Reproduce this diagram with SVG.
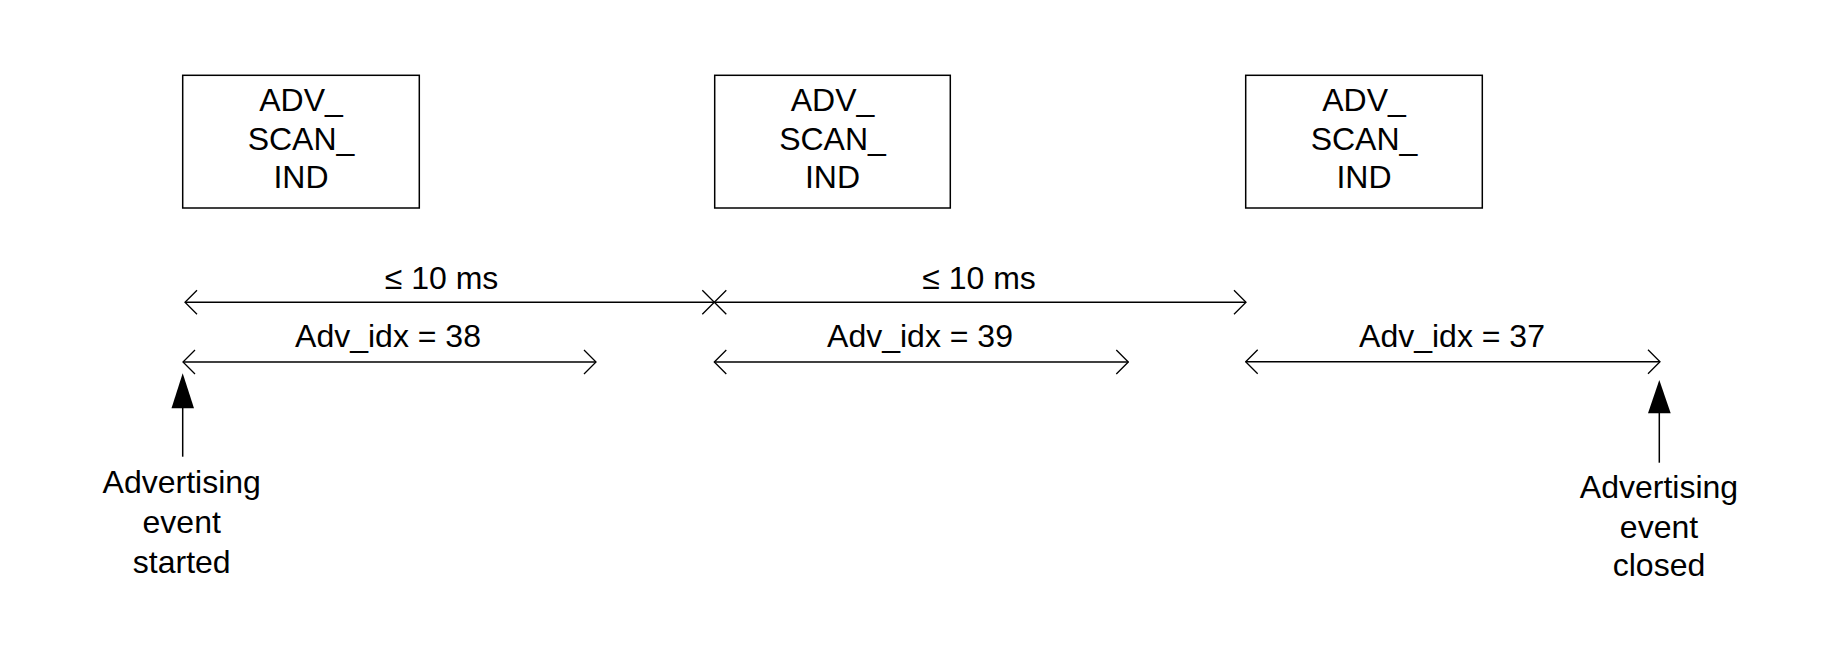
<svg xmlns="http://www.w3.org/2000/svg" width="1842" height="664" viewBox="0 0 1842 664">
<style>
text{font-family:"Liberation Sans",Arial,sans-serif;font-size:32px;fill:#000;text-anchor:middle}
.box{fill:#fff;stroke:#000;stroke-width:1.5}
.ln{stroke:#000;stroke-width:1.5;fill:none}
</style>
<defs>
<marker id="open" viewBox="0 0 14 28" refX="13" refY="14" markerWidth="14" markerHeight="28" markerUnits="userSpaceOnUse" orient="auto-start-reverse">
<path d="M1,2 L13,14 L1,26" fill="none" stroke="#000" stroke-width="1.3"/>
</marker>
</defs>
<rect width="1842" height="664" fill="#fff"/>
<g id="box1"><rect class="box" x="182.7" y="75.3" width="236.6" height="132.7"/>
<text x="301" y="110.7">ADV_</text><text x="301" y="150">SCAN_</text><text x="301" y="188.3">IND</text></g>
<g id="box2"><rect class="box" x="714.7" y="75.3" width="235.6" height="132.7"/>
<text x="832.5" y="110.7">ADV_</text><text x="832.5" y="150">SCAN_</text><text x="832.5" y="188.3">IND</text></g>
<g id="box3"><rect class="box" x="1245.7" y="75.3" width="236.6" height="132.7"/>
<text x="1364" y="110.7">ADV_</text><text x="1364" y="150">SCAN_</text><text x="1364" y="188.3">IND</text></g>
<g id="connectors">
<line class="ln" x1="185" y1="302.3" x2="714.3" y2="302.3" marker-start="url(#open)" marker-end="url(#open)"/>
<line class="ln" x1="714.3" y1="302.3" x2="1246" y2="302.3" marker-start="url(#open)" marker-end="url(#open)"/>
<line class="ln" x1="183" y1="362" x2="596" y2="362" marker-start="url(#open)" marker-end="url(#open)"/>
<line class="ln" x1="714.3" y1="362" x2="1128.3" y2="362" marker-start="url(#open)" marker-end="url(#open)"/>
<line class="ln" x1="1245.7" y1="361.7" x2="1660" y2="361.7" marker-start="url(#open)" marker-end="url(#open)"/>
<line class="ln" x1="182.7" y1="408" x2="182.7" y2="456.7"/>
<polygon points="182.7,373.3 171.5,408.3 194,408.3" fill="#000"/>
<line class="ln" x1="1659.3" y1="413" x2="1659.3" y2="462.7"/>
<polygon points="1659.3,380 1648,413.3 1670.7,413.3" fill="#000"/>
</g>
<g id="labels">
<text x="441.5" y="289.3">≤ 10 ms</text>
<text x="979" y="289.3">≤ 10 ms</text>
<text x="388" y="347.3">Adv_idx = 38</text>
<text x="920" y="347.3">Adv_idx = 39</text>
<text x="1452" y="347.3">Adv_idx = 37</text>
</g>
<g id="start"><text x="181.7" y="493.3">Advertising</text><text x="181.7" y="532.7">event</text><text x="181.7" y="572.7">started</text></g>
<g id="end"><text x="1659" y="498.3">Advertising</text><text x="1659" y="538">event</text><text x="1659" y="576">closed</text></g>
</svg>
